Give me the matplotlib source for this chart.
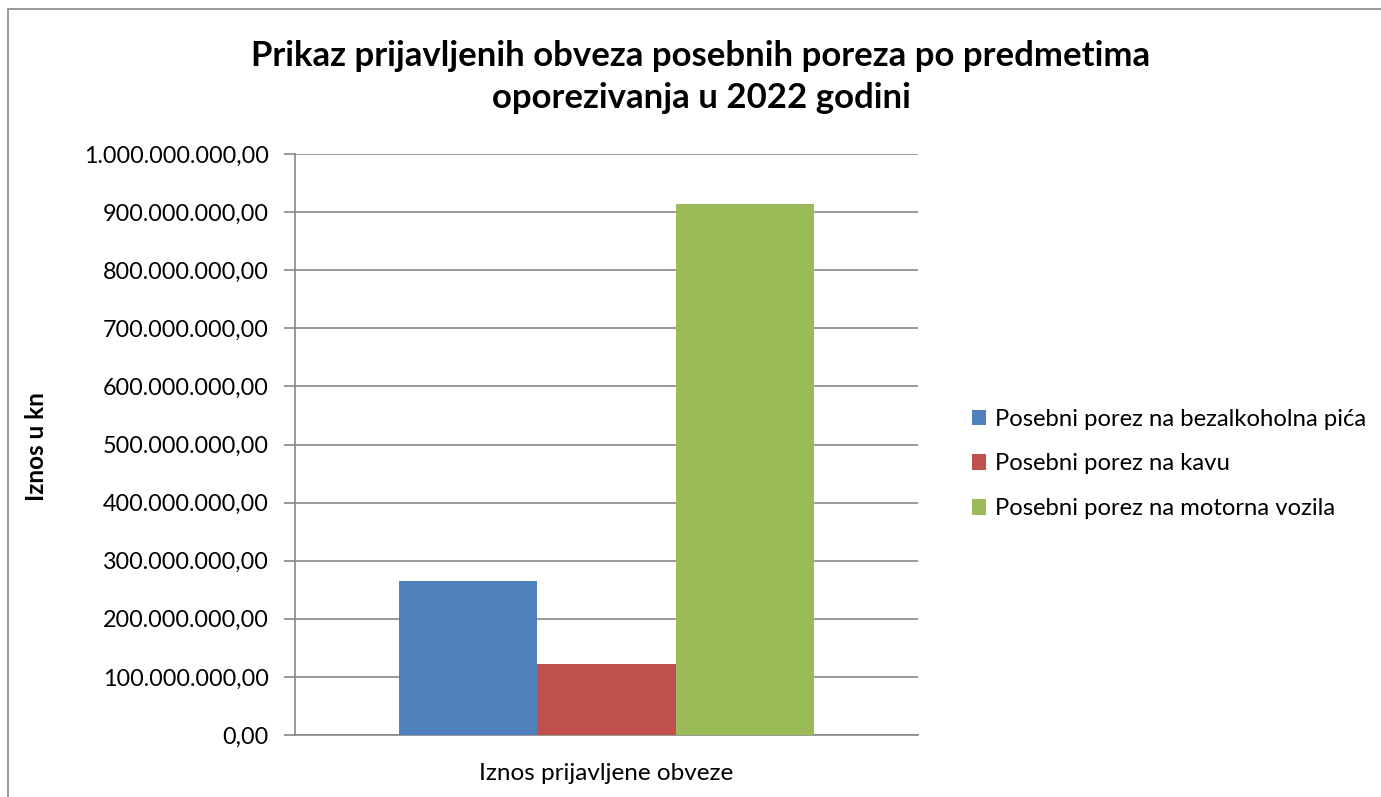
import matplotlib.pyplot as plt
from matplotlib.patches import Rectangle
from matplotlib.ticker import FuncFormatter

plt.rcParams['font.family'] = ['Lato', 'DejaVu Sans']

series = ['Posebni porez na bezalkoholna pića',
          'Posebni porez na kavu',
          'Posebni porez na motorna vozila']
values = [265000000, 122000000, 914000000]
colors = ['#4f81bd', '#c0504d', '#9bbb59']
category = 'Iznos prijavljene obveze'

W, H = 1381, 797
fig = plt.figure(figsize=(W / 100, H / 100), dpi=100)
fig.patches.append(Rectangle((8 / W, -0.1), 1.2, 1.1 - 9 / H, transform=fig.transFigure,
                             fill=False, edgecolor='#878787', linewidth=1.2))

ax = fig.add_axes([295 / W, (H - 735) / H, (918 - 295) / W, (735 - 154) / H])

bw = 1 / 4.5
for i, (s, v, c) in enumerate(zip(series, values, colors)):
    ax.bar((i - 1) * bw, v, width=bw, color=c, label=s, zorder=3)

ax.set_xlim(-0.5, 0.5)
ax.set_ylim(0, 1e9)
ax.set_yticks(range(0, 1000000001, 100000000))


def hr(x, pos):
    s = '{:,.2f}'.format(x)
    return s.replace(',', 'X').replace('.', ',').replace('X', '.')


ax.yaxis.set_major_formatter(FuncFormatter(hr))
ax.set_xticks([0])
ax.set_xticklabels([category])
ax.tick_params(axis='x', length=0, labelsize=17.5, pad=20)
ax.tick_params(axis='y', length=8, width=1.2, color='#878787', labelsize=16.8, pad=11)
ax.grid(axis='y', color='#878787', linewidth=1.2, zorder=0)
for sp in ['top', 'right']:
    ax.spines[sp].set_visible(False)
for sp in ['left', 'bottom']:
    ax.spines[sp].set_color('#878787')
    ax.spines[sp].set_linewidth(1.2)

fig.text(36 / W, 1 - 447 / H, 'Iznos u kn', rotation=90, ha='center', va='center',
         fontsize=17.5, fontweight='bold')
fig.text(701 / W, 1 - 77 / H,
         'Prikaz prijavljenih obveza posebnih poreza po predmetima\noporezivanja u 2022 godini',
         ha='center', va='center', fontsize=25, fontweight='bold', linespacing=1.35)

ax.legend(loc='center left', bbox_to_anchor=(950 / W, 1 - 464 / H), bbox_transform=fig.transFigure,
          frameon=False, fontsize=17.2, handlelength=0.6, handleheight=0.6,
          handletextpad=0.4, labelspacing=1.0)

fig.savefig('out.png', dpi=100)
